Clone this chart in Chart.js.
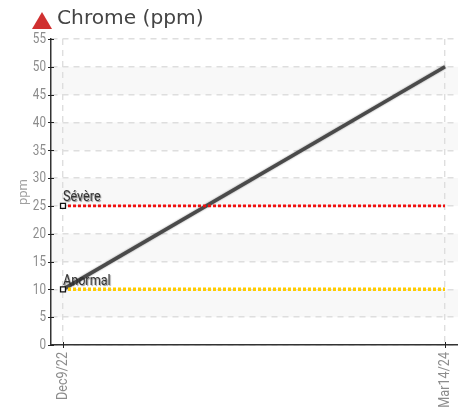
<!DOCTYPE html>
<html>
<head>
<meta charset="utf-8">
<title>Chrome (ppm)</title>
<script src="https://cdn.jsdelivr.net/npm/chart.js@4/dist/chart.umd.min.js"></script>
<style>
  html, body { margin: 0; padding: 0; background: #fff; width: 458px; height: 412px; overflow: hidden; }
  #wrap { position: relative; width: 458px; height: 412px; }
  #heading { position: absolute; left: 57px; top: 5px; font: 20.2px "DejaVu Sans", sans-serif; color: #444; white-space: nowrap; }
  #flag { position: absolute; left: 32px; top: 12px; width: 0; height: 0;
    border-left: 10px solid transparent; border-right: 10px solid transparent; border-bottom: 17px solid #d03030; }
  canvas { position: absolute; left: 0; top: 0; }
</style>
</head>
<body>
<div id="wrap">
  <canvas id="myChart" width="458" height="412"></canvas>
  <div id="flag"></div>
  <div id="heading">Chrome (ppm)</div>
</div>
<script>
const dateLabels = ['Dec9/22', 'Mar14/24'];
const datePositions = [0, 1];
const chromeValues = [10, 50];
const severeValues = [25, 25];
const abnormalValues = [10, 10];
const limitNames = ['Sévère', 'Anormal'];
const yTicks = [0, 5, 10, 15, 20, 25, 30, 35, 40, 45, 50, 55];

// no condensed face is installed, so text is squeezed horizontally
const squeezed = (ctx, text, x, y, squeeze, angle) => {
  ctx.save();
  ctx.translate(x, y);
  if (angle) ctx.rotate(angle);
  ctx.scale(squeeze, 1);
  ctx.fillText(text, 0, 0);
  ctx.restore();
};

// shaded stripes behind every other interval of the y axis
const stripes = {
  id: 'stripes',
  beforeDraw(chart) {
    const { ctx, chartArea, scales } = chart;
    ctx.save();
    ctx.fillStyle = '#f8f8f8';
    for (let i = 1; i < yTicks.length - 1; i += 2) {
      const top = scales.y.getPixelForValue(yTicks[i + 1]);
      const bottom = scales.y.getPixelForValue(yTicks[i]);
      ctx.fillRect(chartArea.left, top, chartArea.width, bottom - top);
    }
    ctx.restore();
  }
};

// soft edge around the main line only
const lineHalo = {
  id: 'lineHalo',
  beforeDatasetDraw(chart, args) {
    if (args.index !== 0) return;
    chart.ctx.save();
    chart.ctx.shadowColor = 'rgba(0,0,0,0.45)';
    chart.ctx.shadowBlur = 2;
  },
  afterDatasetDraw(chart, args) {
    if (args.index === 0) chart.ctx.restore();
  }
};

// small marks crossing both axes, and the tick labels beside them
const axisMarks = {
  id: 'axisMarks',
  afterDatasetsDraw(chart) {
    const { ctx, chartArea, scales } = chart;
    ctx.save();
    ctx.strokeStyle = '#222';
    ctx.lineWidth = 1;
    ctx.beginPath();
    scales.y.ticks.forEach((t, i) => {
      const y = Math.round(scales.y.getPixelForTick(i)) + 0.5;
      ctx.moveTo(chartArea.left - 3, y);
      ctx.lineTo(chartArea.left + 3, y);
    });
    scales.x.ticks.forEach((t, i) => {
      const x = Math.round(scales.x.getPixelForTick(i)) + 0.5;
      ctx.moveTo(x, chartArea.bottom - 3);
      ctx.lineTo(x, chartArea.bottom + 3);
    });
    ctx.stroke();

    ctx.fillStyle = '#8c8c8c';
    ctx.font = '15px Roboto, sans-serif';
    ctx.textBaseline = 'middle';
    ctx.textAlign = 'right';
    scales.y.ticks.forEach((t, i) => {
      squeezed(ctx, t.label, chartArea.left - 5, scales.y.getPixelForTick(i) + 0.5, 0.78);
    });
    scales.x.ticks.forEach((t, i) => {
      squeezed(ctx, t.label, scales.x.getPixelForTick(i), chartArea.bottom + 7, 0.84, -Math.PI / 2);
    });
    ctx.restore();
  }
};

// names of the limit lines, written above their first point
const limitLabels = {
  id: 'limitLabels',
  afterDatasetsDraw(chart) {
    const { ctx } = chart;
    ctx.save();
    ctx.font = '14px Roboto, sans-serif';
    ctx.fillStyle = '#333';
    ctx.textBaseline = 'bottom';
    ctx.shadowColor = 'rgba(0,0,0,0.45)';
    ctx.shadowOffsetX = 1;
    ctx.shadowOffsetY = 1;
    ctx.shadowBlur = 1;
    limitNames.forEach((name, i) => {
      const pt = chart.getDatasetMeta(i + 1).data[0];
      squeezed(ctx, name, pt.x, pt.y - 1, 0.9);
    });
    ctx.restore();
  }
};

const toPoints = values => values.map((v, i) => ({ x: datePositions[i], y: v }));

const limitLine = (values, color, width) => ({
  data: toPoints(values),
  borderColor: color,
  borderWidth: width,
  borderDash: [3, 2],
  pointStyle: 'rect',
  pointRadius: [3.5, 0],
  pointBackgroundColor: '#fff',
  pointBorderColor: '#111',
  pointBorderWidth: 1.3
});

const ctx = document.getElementById('myChart').getContext('2d');
const myChart = new Chart(ctx, {
  type: 'line',
  data: {
    datasets: [
      { data: toPoints(chromeValues), borderColor: '#4a4a4a', borderWidth: 3.5, pointRadius: 0, order: 2 },
      { ...limitLine(severeValues, '#f01010', 2.6), order: 1 },
      { ...limitLine(abnormalValues, '#ffcc00', 3.5), order: 1 }
    ]
  },
  plugins: [stripes, lineHalo, axisMarks, limitLabels],
  options: {
    responsive: false,
    animation: false,
    layout: { autoPadding: false, padding: { top: 39, right: 0, left: 0, bottom: 0 } },
    plugins: { legend: { display: false }, tooltip: { enabled: false } },
    scales: {
      x: {
        type: 'linear',
        min: -0.0314,
        max: 1.034,
        afterBuildTicks(scale) { scale.ticks = datePositions.map(v => ({ value: v })); },
        afterFit(scale) { scale.height = 67; },
        grid: { color: '#dedede', lineWidth: 1.4, drawTicks: false },
        border: { color: '#333', width: 1.5, dash: [6, 5] },
        ticks: {
          display: false,
          callback: v => dateLabels[datePositions.indexOf(v)]
        }
      },
      y: {
        min: 0,
        max: 55,
        afterBuildTicks(scale) { scale.ticks = yTicks.map(v => ({ value: v })); },
        afterFit(scale) { scale.width = 51; },
        grid: { color: '#dedede', lineWidth: 1.4, drawTicks: false },
        border: { color: '#333', width: 1.5, dash: [6, 5] },
        title: {
          display: true,
          text: 'ppm',
          color: '#a0a0a0',
          font: { family: 'Roboto, sans-serif', size: 13 },
          padding: { top: 16, bottom: 0 }
        },
        ticks: { display: false }
      }
    }
  }
});
</script>
</body>
</html>
